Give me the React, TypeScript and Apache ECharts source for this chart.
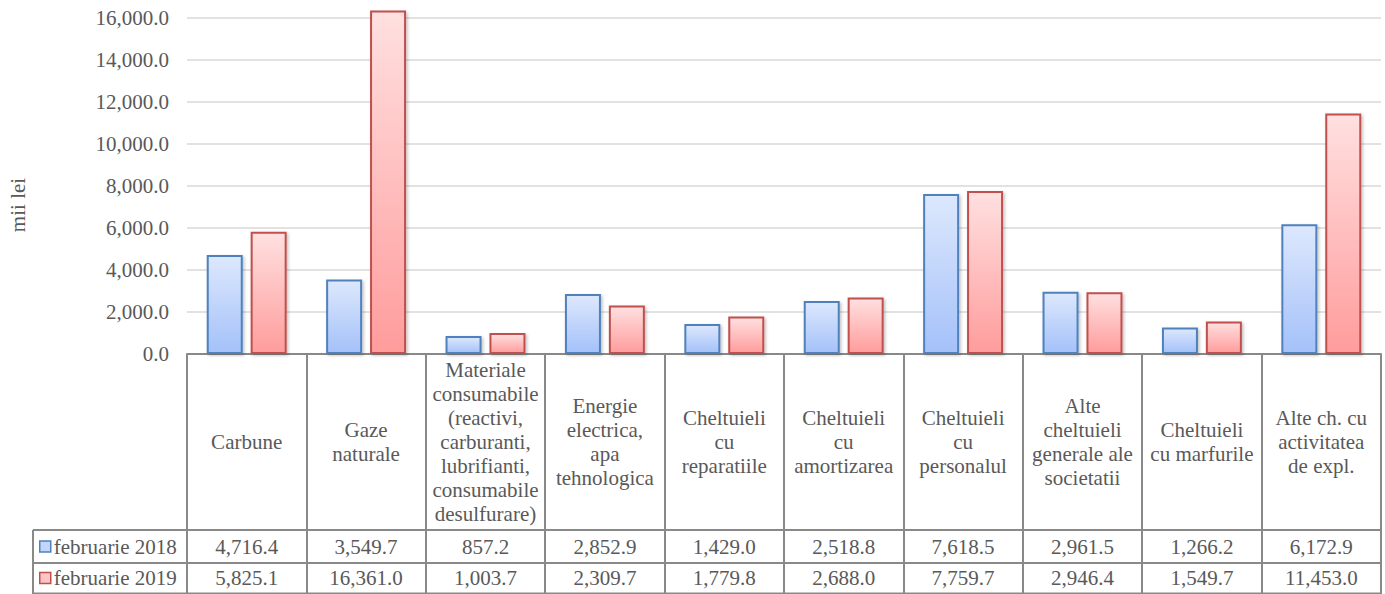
import React, { useEffect, useRef } from "react";
import * as echarts from "echarts";

const categories: string[] = [
  "Carbune",
  "Gaze\nnaturale",
  "Materiale\nconsumabile\n(reactivi,\ncarburanti,\nlubrifianti,\nconsumabile\ndesulfurare)",
  "Energie\nelectrica,\napa\ntehnologica",
  "Cheltuieli\ncu\nreparatiile",
  "Cheltuieli\ncu\namortizarea",
  "Cheltuieli\ncu\npersonalul",
  "Alte\ncheltuieli\ngenerale ale\nsocietatii",
  "Cheltuieli\ncu marfurile",
  "Alte ch. cu\nactivitatea\nde expl.",
];

const seriesNames: string[] = ["februarie 2018", "februarie 2019"];
const values2018: number[] = [4716.4, 3549.7, 857.2, 2852.9, 1429.0, 2518.8, 7618.5, 2961.5, 1266.2, 6172.9];
const values2019: number[] = [5825.1, 16361.0, 1003.7, 2309.7, 1779.8, 2688.0, 7759.7, 2946.4, 1549.7, 11453.0];

const yMin = 0;
const yMax = 18000;
const yInterval = 2000;
const yAxisTitle = "mii lei";

const FONT = "Liberation Serif";
const TEXT = "#595959";
const LINE = "#898989";

const fmt = (v: number) =>
  v.toLocaleString("en-US", { minimumFractionDigits: 1, maximumFractionDigits: 1 });

// the chart canvas extends above the visible page (the top is cropped)
const OFF = 42;

export default function App() {
  const ref = useRef<HTMLDivElement>(null);
  useEffect(() => {
    if (!ref.current) return;
    const chart = echarts.init(ref.current, null, { renderer: "svg" });

    const gridLeft = 187;
    const gridRight = 4;
    const gridTop = 18;
    const gridBottom = 240;
    const axisY = 354;
    const row1Y = 546.5;
    const row2Y = 578;
    const tableLeft = 33;
    const tableRight = 1385 - gridRight;

    const blueFill = new echarts.graphic.LinearGradient(0, 0, 0, 1, [
      { offset: 0, color: "#dde8fd" },
      { offset: 1, color: "#a4c1f9" },
    ]);
    const redFill = new echarts.graphic.LinearGradient(0, 0, 0, 1, [
      { offset: 0, color: "#ffe0e0" },
      { offset: 1, color: "#ff9c9c" },
    ]);

    const valueAxisCommon = (data: string[], margin: number) => ({
      type: "category" as const,
      position: "bottom" as const,
      data,
      axisLine: { show: false },
      axisTick: { show: false },
      splitLine: { show: false },
      axisLabel: {
        interval: 0,
        margin,
        verticalAlign: "middle",
        fontSize: 21,
        fontFamily: FONT,
        color: TEXT,
      },
    });

    const legendCommon = (name: string, top: number, color: string, border: string) => ({
      show: true,
      selectedMode: false,
      orient: "horizontal" as const,
      left: 39,
      top: top + OFF,
      padding: 0,
      itemWidth: 11,
      itemHeight: 11,
      icon: "rect",
      textStyle: { fontSize: 21, fontFamily: FONT, color: TEXT, lineHeight: 24, padding: [0, 0, 0, -2] },
      data: [{ name, itemStyle: { color, borderColor: border, borderWidth: 1.5 } }],
    });

    const hLine = (y: number) => ({
      type: "line",
      shape: { x1: tableLeft, y1: y + OFF, x2: tableRight, y2: y + OFF },
      style: { stroke: LINE, lineWidth: 2 },
    });

    chart.setOption({
      animation: false,
      backgroundColor: "#ffffff",
      textStyle: { fontFamily: FONT },
      grid: { left: gridLeft, right: gridRight, top: gridTop, bottom: gridBottom, containLabel: false },
      legend: [
        legendCommon(seriesNames[0], row1Y - 12, "#c2d6fb", "#4f81bd"),
        legendCommon(seriesNames[1], row2Y - 12, "#ffc4c4", "#c0504d"),
      ],
      xAxis: [
        {
          type: "category",
          position: "bottom",
          data: categories,
          axisLine: { show: true, lineStyle: { color: LINE, width: 2 } },
          axisTick: { show: true, interval: 0, length: 240, lineStyle: { color: LINE, width: 2 } },
          axisLabel: {
            interval: 0,
            margin: 442 - axisY,
            verticalAlign: "middle",
            align: "center",
            fontSize: 21,
            lineHeight: 24,
            fontFamily: FONT,
            color: TEXT,
          },
        },
        valueAxisCommon(values2018.map(fmt), row1Y - axisY),
        valueAxisCommon(values2019.map(fmt), row2Y - axisY),
      ],
      yAxis: {
        type: "value",
        min: yMin,
        max: yMax,
        interval: yInterval,
        axisLine: { show: false },
        axisTick: { show: false },
        splitLine: { show: true, lineStyle: { color: "#d9d9d9", width: 1.5 } },
        axisLabel: {
          margin: 18,
          fontSize: 21,
          fontFamily: FONT,
          color: TEXT,
          showMaxLabel: false,
          formatter: (v: number) => fmt(v),
        },
      },
      series: [
        {
          name: seriesNames[0],
          type: "bar",
          xAxisIndex: 0,
          data: values2018,
          barWidth: 36,
          barGap: "22%",
          itemStyle: {
            color: blueFill,
            borderColor: "#4f81bd",
            borderWidth: 2,
            shadowBlur: 3,
            shadowColor: "rgba(0,0,0,0.25)",
            shadowOffsetX: 1.5,
            shadowOffsetY: 1.5,
          },
        },
        {
          name: seriesNames[1],
          type: "bar",
          xAxisIndex: 0,
          data: values2019,
          barWidth: 36,
          barGap: "22%",
          itemStyle: {
            color: redFill,
            borderColor: "#c0504d",
            borderWidth: 2,
            shadowBlur: 3,
            shadowColor: "rgba(0,0,0,0.25)",
            shadowOffsetX: 1.5,
            shadowOffsetY: 1.5,
          },
        },
      ],
      graphic: [
        {
          type: "text",
          x: 18,
          y: 205 + OFF,
          rotation: Math.PI / 2,
          style: {
            text: yAxisTitle,
            fontSize: 21,
            fontFamily: FONT,
            fill: TEXT,
            align: "center",
            verticalAlign: "middle",
          },
        },
        hLine(530),
        hLine(563),
        hLine(593.5),
        {
          type: "line",
          shape: { x1: tableLeft, y1: 530 + OFF, x2: tableLeft, y2: 594 + OFF },
          style: { stroke: LINE, lineWidth: 2 },
        },
      ],
    });

    return () => chart.dispose();
  }, []);

  return (
    <div
      ref={ref}
      style={{
        position: "fixed",
        left: 0,
        top: -OFF,
        width: 1385,
        height: 594 + OFF,
        background: "#fff",
      }}
    />
  );
}
